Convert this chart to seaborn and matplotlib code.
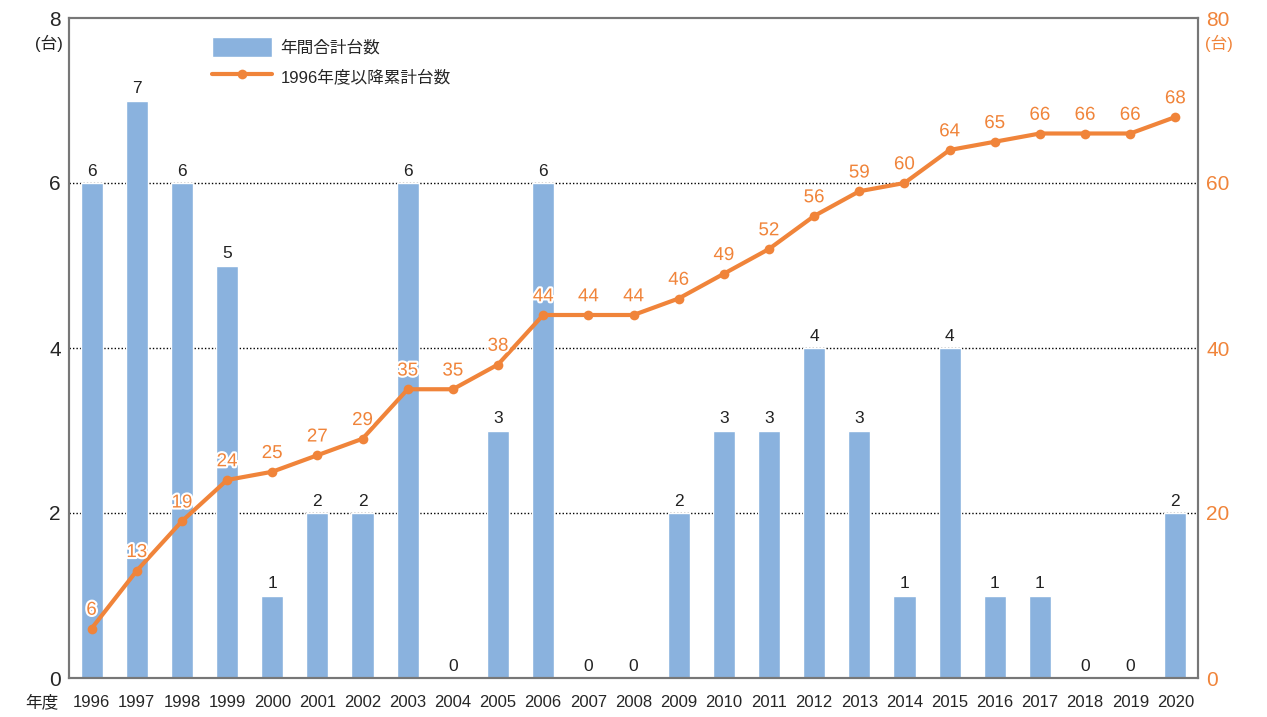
import numpy as np
import pandas as pd
import matplotlib.pyplot as plt
import matplotlib.patheffects as pe
import seaborn as sns

years = [str(y) for y in range(1996, 2021)]
annual = [6, 7, 6, 5, 1, 2, 2, 6, 0, 3, 6, 0, 0, 2, 3, 3, 4, 3, 1, 4, 1, 1, 0, 0, 2]
cumulative = [6, 13, 19, 24, 25, 27, 29, 35, 35, 38, 44, 44, 44, 46, 49, 52, 56, 59, 60, 64, 65, 66, 66, 66, 68]

BLUE = "#8ab2de"
ORANGE = "#f0843a"
GREY = "#777777"

sns.set_theme(style="white")
plt.rcParams['font.family'] = ['Liberation Sans', 'Noto Sans CJK JP', 'DejaVu Sans']

df = pd.DataFrame({"year": years, "annual": annual, "cum": cumulative, "pos": np.arange(len(years))})

fig = plt.figure(figsize=(12.67, 7.17), dpi=100)
ax = fig.add_axes([69 / 1267, 1 - 678 / 717, (1198 - 69) / 1267, (678 - 18) / 717])

sns.barplot(data=df, x="year", y="annual", color=BLUE, width=0.49, saturation=1, ax=ax,
            label="年間合計台数")
ax.bar_label(ax.containers[0], padding=3, fontsize=12.5, color="#222222")
ax.set_ylim(0, 8)
ax.set_xlim(-0.5, len(years) - 0.5)
ax.set_yticks([0, 2, 4, 6, 8])
ax.set_yticklabels(["0", "2", "4", "6", "8"], fontsize=15)
ax.tick_params(axis="x", labelsize=12, length=0, pad=12)
ax.tick_params(axis="y", length=0, pad=6)
for v in [2, 4, 6]:
    ax.axhline(v, color="black", linestyle=(0, (1, 1.5)), linewidth=1, zorder=0)
ax.set_xlabel("")
ax.set_ylabel("")
for s in ax.spines.values():
    s.set_color(GREY)
    s.set_linewidth(1.5)

ax2 = ax.twinx()
sns.lineplot(data=df, x="pos", y="cum", color=ORANGE, linewidth=3, marker="o",
             markersize=7, markeredgewidth=0, ax=ax2, label="1996年度以降累計台数")
ax2.set_ylim(0, 80)
ax2.set_yticks([0, 20, 40, 60, 80])
ax2.set_yticklabels(["0", "20", "40", "60", "80"], fontsize=15, color=ORANGE)
ax2.tick_params(axis="y", length=0, pad=6)
ax2.set_ylabel("")
ax2.set_xlabel("")
for s in ax2.spines.values():
    s.set_color(GREY)
    s.set_linewidth(1.5)

for x, y in zip(df["pos"], df["cum"]):
    ax2.annotate(str(y), (x, y), xytext=(0, 7), textcoords="offset points",
                 ha="center", va="bottom", fontsize=13.5, color=ORANGE,
                 path_effects=[pe.withStroke(linewidth=3, foreground="white")])

if ax.get_legend():
    ax.get_legend().remove()
ax2.get_legend().remove()
h1, l1 = ax.get_legend_handles_labels()
h2, l2 = ax2.get_legend_handles_labels()
fig.legend(h1 + h2, l1 + l2, loc="upper left", bbox_to_anchor=(197 / 1267, 1 - 22 / 717),
           frameon=False, fontsize=12, handlelength=3.6, handleheight=1.5,
           labelspacing=0.55, handletextpad=0.5)

fig.text(63 / 1267, 1 - 43 / 717, "(台)", ha="right", va="center", fontsize=12, color="#222222")
fig.text(1205 / 1267, 1 - 43 / 717, "(台)", ha="left", va="center", fontsize=12, color=ORANGE)
fig.text(58 / 1267, 1 - 702 / 717, "年度", ha="right", va="center", fontsize=12, color="#222222")

fig.savefig("out.png", dpi=100)
